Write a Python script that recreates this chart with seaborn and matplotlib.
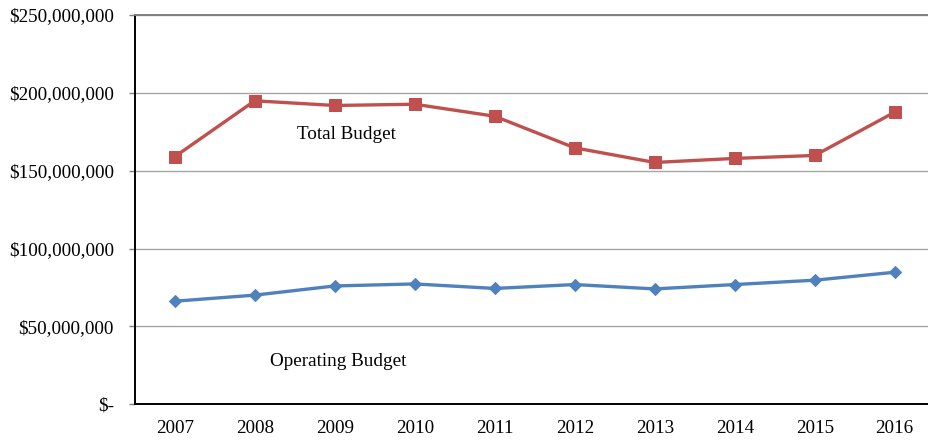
import matplotlib
matplotlib.use("Agg")
import matplotlib.pyplot as plt
from matplotlib.ticker import FuncFormatter, FixedLocator
import numpy as np
import pandas as pd
import seaborn as sns

# Budget history by fiscal year (dollars)
years = ["2007", "2008", "2009", "2010", "2011", "2012", "2013", "2014", "2015", "2016"]
total_budget = [159.0e6, 194.9e6, 191.9e6, 192.7e6, 185.0e6, 164.7e6, 155.3e6, 157.9e6, 159.8e6, 187.6e6]
operating_budget = [66.2e6, 70.1e6, 76.0e6, 77.3e6, 74.4e6, 76.9e6, 74.1e6, 76.9e6, 79.7e6, 84.8e6]
y_ticks = [0, 50e6, 100e6, 150e6, 200e6, 250e6]

sns.set_style("white")
plt.rcParams["font.family"] = ["Liberation Serif", "DejaVu Serif"]
plt.rcParams["text.color"] = "black"
plt.rcParams["xtick.labelcolor"] = "black"
plt.rcParams["ytick.labelcolor"] = "black"

W, H, DPI = 929, 440, 100
fig = plt.figure(figsize=(W / DPI, H / DPI), dpi=DPI)
left_px, right_px, top_px, bottom_px = 134.7, 929, 15, 404.3
ax = fig.add_axes([left_px / W, (H - bottom_px) / H,
                   (right_px - left_px) / W, (bottom_px - top_px) / H])

pos = np.arange(len(years))
df_total = pd.DataFrame({"pos": pos, "value": total_budget})
df_oper = pd.DataFrame({"pos": pos, "value": operating_budget})

red = "#C0504D"
blue = "#4F81BD"
sns.lineplot(data=df_total, x="pos", y="value", ax=ax, color=red, linewidth=2.4,
             marker="s", markersize=8, markeredgecolor=red, zorder=3)
sns.lineplot(data=df_oper, x="pos", y="value", ax=ax, color=blue, linewidth=2.4,
             marker="D", markersize=6.5, markeredgecolor=blue, zorder=3)

# Category axis: labels centred on each year, tick marks between years
px_per_cat = 80.0
ax.set_xlim(-0.5, -0.5 + (right_px - left_px) / px_per_cat)
ax.xaxis.set_major_locator(FixedLocator(pos))
ax.set_xticklabels(years)
ax.xaxis.set_minor_locator(FixedLocator(np.arange(-0.5, len(years) - 0.5, 1.0)))
ax.tick_params(axis="x", which="major", length=0, pad=11, labelsize=13.8, labelcolor="black")
ax.tick_params(axis="x", which="minor", length=4, width=1, color="#808080", direction="out")

# Value axis
ax.set_ylim(0, 250e6)
ax.yaxis.set_major_locator(FixedLocator(y_ticks))
ax.yaxis.set_major_formatter(FuncFormatter(lambda v, _: "$-" if v == 0 else f"${v:,.0f}"))
ax.tick_params(axis="y", which="major", length=4, width=1, color="#808080",
               direction="out", pad=11, labelsize=13.8, labelcolor="black", left=True)

ax.grid(axis="y", color="#A6A6A6", linewidth=1)
ax.grid(axis="x", visible=False)
ax.set_axisbelow(True)

for side in ("left", "bottom"):
    ax.spines[side].set_color("black")
    ax.spines[side].set_linewidth(1.4)
ax.spines["top"].set_color("#808080")
ax.spines["top"].set_linewidth(1.4)
ax.spines["right"].set_visible(False)

ax.set_xlabel("")
ax.set_ylabel("")

ax.text(2.15, 173.3e6, "Total Budget", ha="center", va="center", fontsize=13.8, color="black")
ax.text(2.04, 27.8e6, "Operating Budget", ha="center", va="center", fontsize=13.8, color="black")

fig.savefig("out.png", dpi=DPI, facecolor="white")
